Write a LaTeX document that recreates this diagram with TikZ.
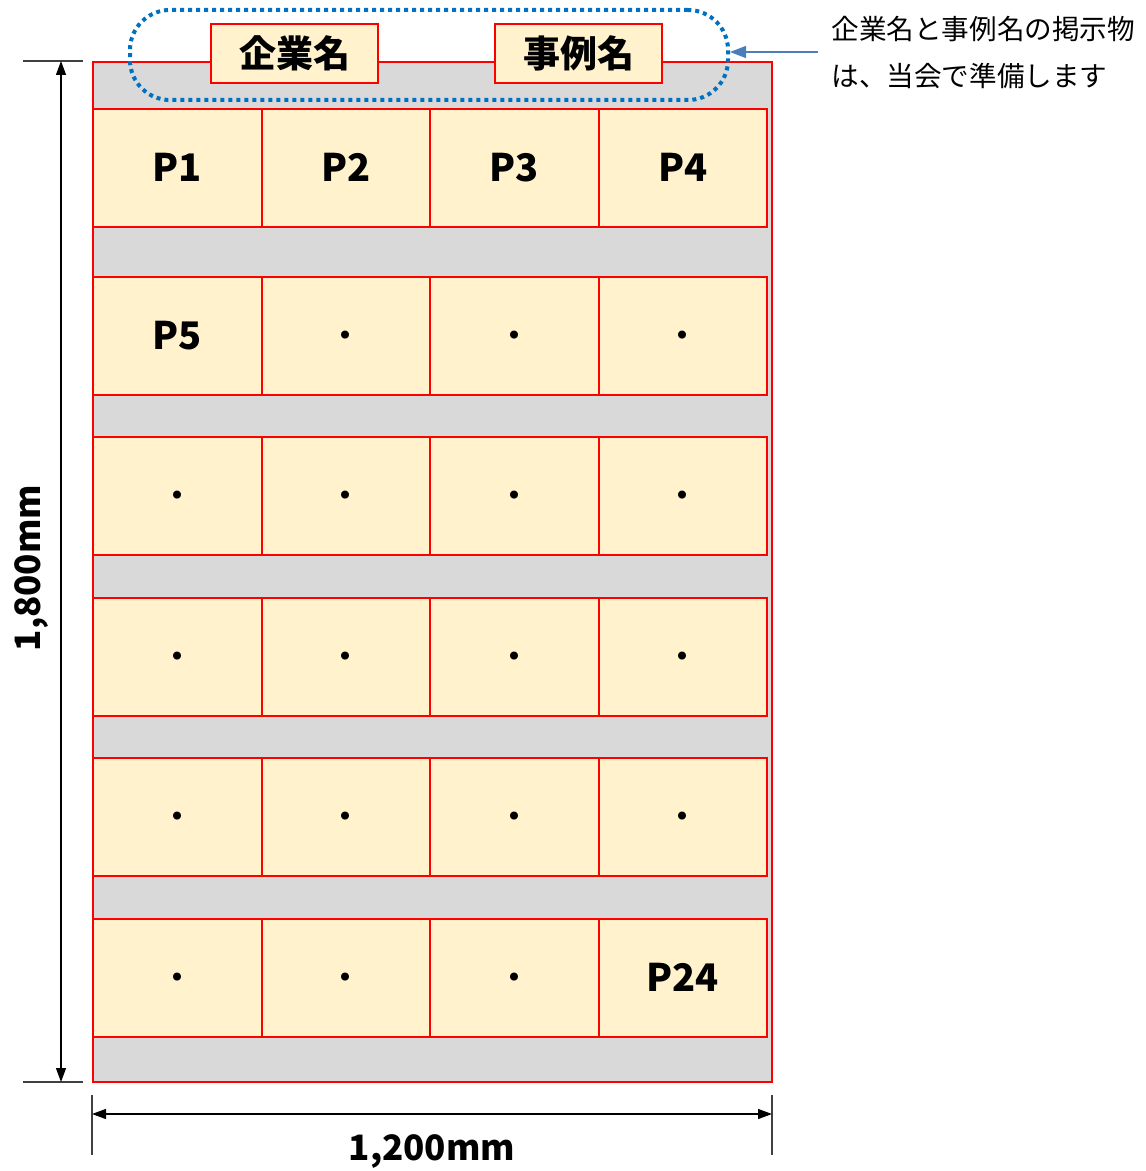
\documentclass[tikz,border=0pt]{standalone}
\usepackage{fontspec}
\setmainfont{Noto Sans CJK JP}
\newfontfamily\cjk{Noto Sans CJK JP}
\usetikzlibrary{arrows.meta}
\definecolor{cellfill}{HTML}{FFF2CC}
\definecolor{boardgray}{HTML}{D9D9D9}
\definecolor{dotblue}{HTML}{0070C0}
\definecolor{notearrow}{HTML}{4A7EBB}
\newcommand{\dt}{{\mdseries ・}}

\begin{document}
\begin{tikzpicture}[x=0.5pt, y=-0.5pt,
  cell/.style={draw=red, fill=cellfill, line width=1pt, minimum width=84.25pt, minimum height=59pt, inner sep=0pt, text height=13.9pt, text depth=0pt, anchor=north west, font=\cjk\bfseries\fontsize{19}{22}\selectfont},
  namebox/.style={draw=red, fill=cellfill, line width=0.9pt, minimum width=83.5pt, minimum height=29.5pt, inner sep=0pt, font=\cjk\bfseries\fontsize{18.5}{22}\selectfont},
  dimline/.style={line width=0.6pt, {Triangle[length=7pt,width=5pt]}-{Triangle[length=7pt,width=5pt]}},
  tick/.style={line width=0.6pt, black!75},
  dimtext/.style={font=\cjk\bfseries\fontsize{17.5}{20}\selectfont}]
 	\useasboundingbox (0,0) rectangle (1145,1171);
 	% board
 	\node[draw=red, fill=boardgray, line width=1pt, minimum width=339.5pt, minimum height=510pt, inner sep=0pt, anchor=north west] (board) at (92,61) {};
 	% panels
 	\foreach \y/\pa/\pb/\pc/\pd [count=\row] in {108/P1/P2/P3/P4, 276/P5/\dt/\dt/\dt, 436/\dt/\dt/\dt/\dt, 597/\dt/\dt/\dt/\dt, 757/\dt/\dt/\dt/\dt, 918/\dt/\dt/\dt/P24}
 	  \foreach \x/\t [count=\col] in {92/\pa, 260.5/\pb, 429/\pc, 597.5/\pd}
 	    \node[cell] (p-\row-\col) at (\x,\y) {\t};
 	% name plates
 	\node[draw=dotblue, dotted, line width=2pt, rounded corners=20pt, minimum width=299pt, minimum height=45pt] (banner) at (429,55) {};
 	\node[namebox] (company) at (294.5,53.5) {企業名};
 	\node[namebox] (case) at (578.5,53.5) {事例名};
 	% note
 	\node[anchor=north west, align=left, inner sep=0pt, font=\cjk\fontsize{13.8}{23.5}\selectfont] (note) at (831,16) {企業名と事例名の掲示物\\は、当会で準備します};
 	\coordinate (notestart) at (818,52);
 	\draw[notearrow, line width=0.6pt, -{Triangle[length=8pt,width=6pt]}] (notestart) -- (banner.east |- notestart);
 	% height
 	\coordinate (ht) at (61,61);
 	\coordinate (hb) at (61,1082);
 	\draw[tick] (23,61) -- (83,61);
 	\draw[tick] (23,1082) -- (83,1082);
 	\draw[dimline] (ht) -- (hb);
 	\node[dimtext, rotate=90] (height) at (32,568) {1,800mm};
 	% width
 	\coordinate (wl) at (92,1114);
 	\coordinate (wr) at (772,1114);
 	\draw[tick] (92,1095) -- (92,1155);
 	\draw[tick] (772,1095) -- (772,1155);
 	\draw[dimline] (wl) -- (wr);
 	\node[dimtext] (width) at (432,1152) {1,200mm};
\end{tikzpicture}
\end{document}
